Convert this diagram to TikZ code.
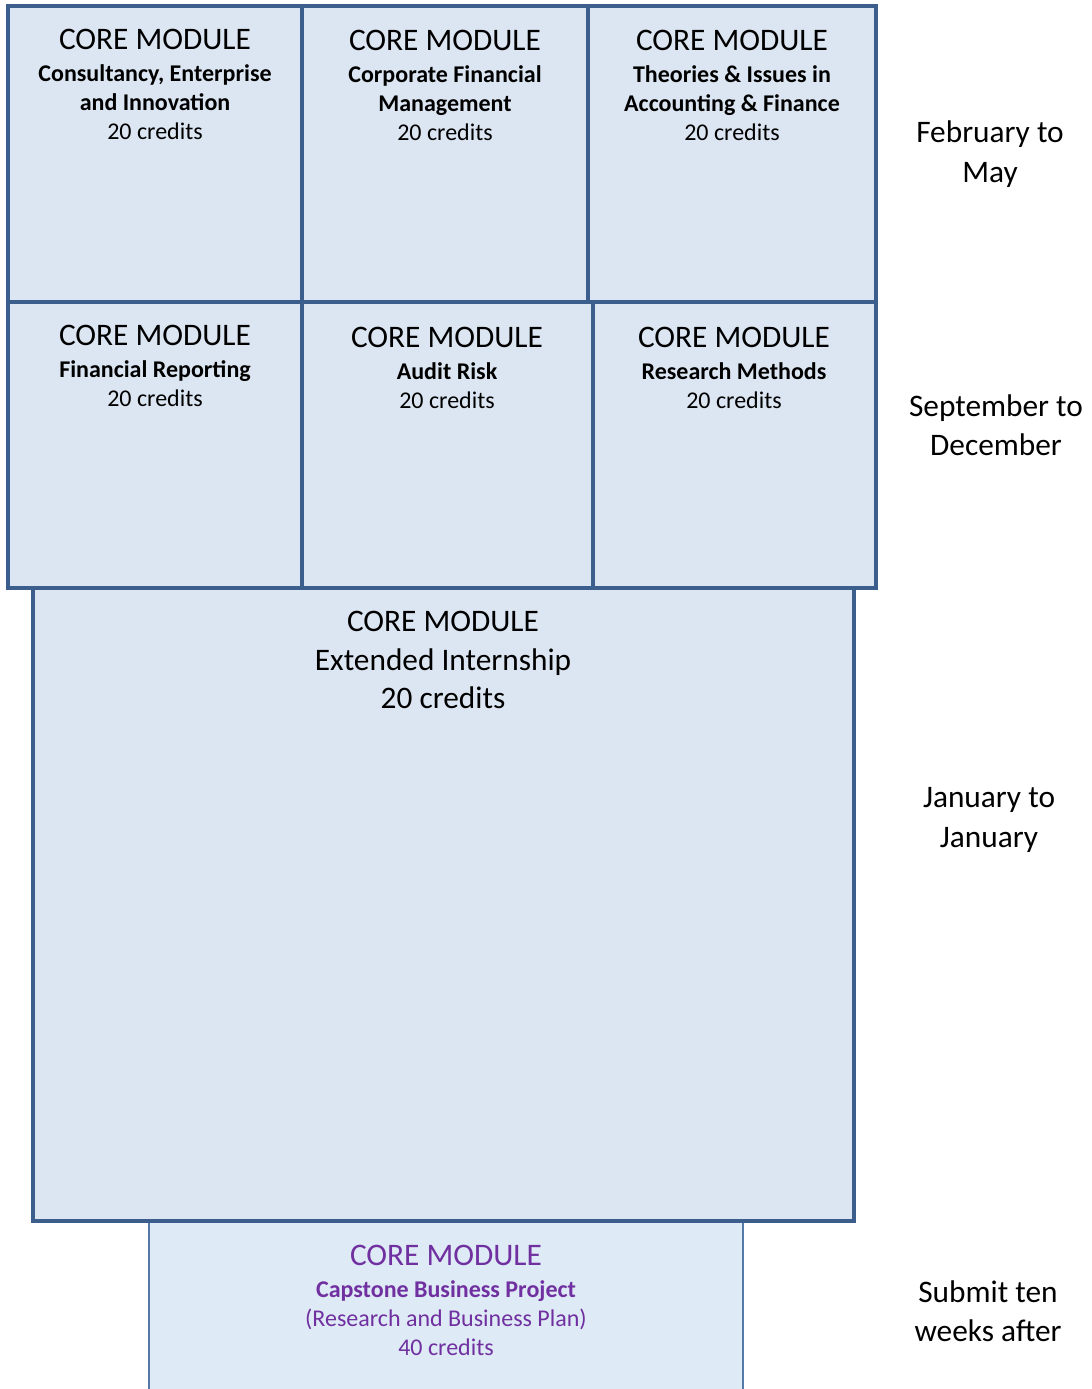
\documentclass[tikz,border=0pt]{standalone}
\usepackage{fontspec}
\setmainfont{Carlito}

\begin{document}
\begin{tikzpicture}[x=0.75pt,y=-0.75pt,
  modbox/.style={draw=mod_edge,fill=mod_fill,line width=3pt},
  modtext/.style={anchor=north,align=center,inner sep=0pt,font=\fontsize{18}{21.75}\selectfont},
  timetext/.style={align=center,inner sep=0pt,font=\fontsize{23.5}{29.5}\selectfont}]

% ------------------------------------------------ programme colours
\definecolor{mod_fill}{RGB}{220,230,242}  %#DCE6F2
\definecolor{mod_edge}{RGB}{59,94,140}    %#3B5E8C
\definecolor{cap_fill}{RGB}{222,234,246}  %#DEEAF6
\definecolor{cap_edge}{RGB}{84,122,170}   %#547AAA
\definecolor{cap_text}{RGB}{112,48,160}   %#7030A0

\newcommand{\coretitle}{{\fontsize{23.5}{25}\selectfont CORE MODULE}\\[2pt]}

\useasboundingbox (0,0) rectangle (1092,1389);

% capstone (open at the bottom)
\fill[cap_fill] (149,1221) rectangle (743,1389);
\draw[cap_edge,line width=1.5pt] (149,1389) -- (149,1221) -- (743,1221) -- (743,1389);

% internship
\draw[modbox] (33,588) rectangle (854,1221);

% second term
\draw[modbox] (8,302) rectangle (302,588);
\draw[modbox] (302,302) rectangle (593,588);
\draw[modbox] (593,302) rectangle (876,588);

% first term
\draw[modbox] (8,6) rectangle (302,302);
\draw[modbox] (302,6) rectangle (588,302);
\draw[modbox] (588,6) rectangle (876,302);

\node[modtext] (cei) at (155,29) {\coretitle\textbf{Consultancy, Enterprise}\\\textbf{and Innovation}\\20 credits};
\node[modtext] (cfm) at (445,30) {\coretitle\textbf{Corporate Financial}\\\textbf{Management}\\20 credits};
\node[modtext] (tia) at (732,30) {\coretitle\textbf{Theories \& Issues in}\\\textbf{Accounting \& Finance}\\20 credits};

\node[modtext] (frep) at (155,325) {\coretitle\textbf{Financial Reporting}\\20 credits};
\node[modtext] (arisk) at (447,327) {\coretitle\textbf{Audit Risk}\\20 credits};
\node[modtext] (rmeth) at (734,327) {\coretitle\textbf{Research Methods}\\20 credits};

\node[modtext,font=\fontsize{23.5}{29}\selectfont] (ext) at (443,611) {CORE MODULE\\Extended Internship\\20 credits};

\node[modtext,text=cap_text] (cbp) at (446,1245) {\coretitle\textbf{Capstone Business Project}\\(Research and Business Plan)\\40 credits};

% time labels
\node[timetext] (lfeb) at (990,154) {February to\\May};
\node[timetext] (lsep) at (996,425) {September to\\December};
\node[timetext] (ljan) at (989,820) {January to\\January};
\node[timetext] (lsub) at (988,1311) {Submit ten\\weeks after};

\end{tikzpicture}
\end{document}
